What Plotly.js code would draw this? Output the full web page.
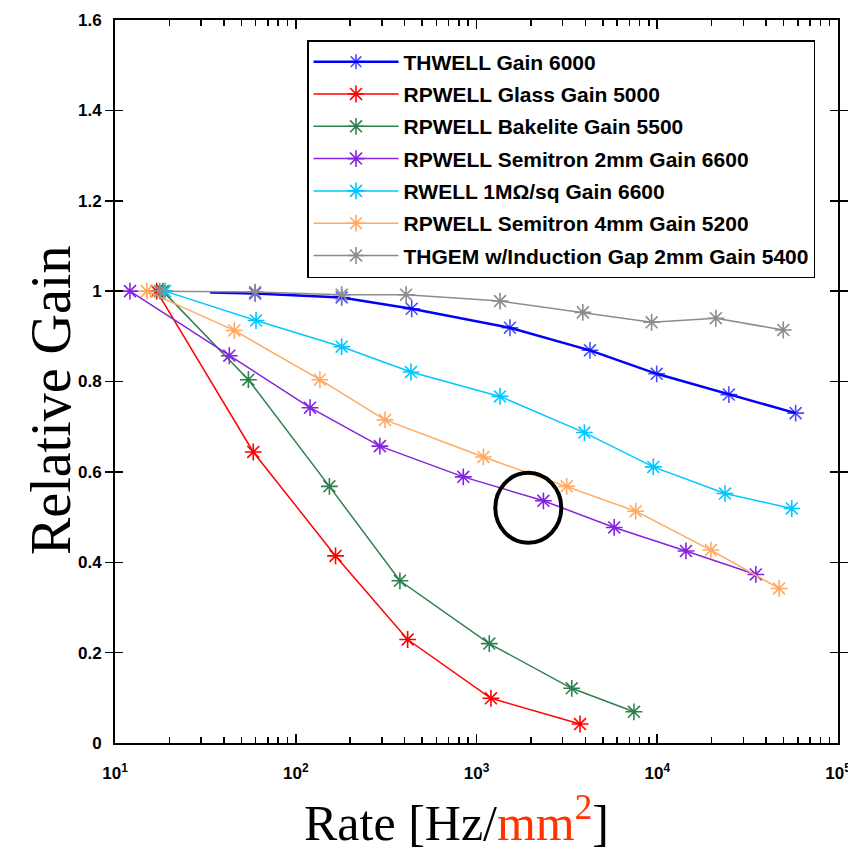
<!DOCTYPE html>
<html>
<head>
<meta charset="utf-8">
<script src="https://cdn.plot.ly/plotly-3.0.1.min.js"></script>
<style>html,body{margin:0;padding:0;background:#fff;}</style>
</head>
<body>
<div id="chart" style="width:848px;height:852px;"></div>
<script>
// ---- data ----
const seriesNames = [
  'THWELL Gain 6000',
  'RPWELL Glass Gain 5000',
  'RPWELL Bakelite Gain 5500',
  'RPWELL Semitron 2mm Gain 6600',
  'RWELL 1MΩ/sq Gain 6600',
  'RPWELL Semitron 4mm Gain 5200',
  'THGEM w/Induction Gap 2mm Gain 5400'
];
const thwellX   = [33.6, 59.6, 179.5, 438, 1531, 4245, 9930, 24900, 58300];
const thwellY   = [0.997, 0.995, 0.986, 0.961, 0.919, 0.869, 0.817, 0.771, 0.730];
const glassX    = [17.0, 58.2, 166, 416, 1202, 3740];
const glassY    = [1.0, 0.644, 0.414, 0.229, 0.099, 0.042];
const bakeliteX = [18.4, 54.7, 153.5, 377, 1177, 3365, 7430];
const bakeliteY = [1.0, 0.804, 0.568, 0.359, 0.220, 0.121, 0.069];
const semi2X    = [12.1, 42.9, 120, 292, 845, 2345, 5780, 14420, 35100];
const semi2Y    = [1.0, 0.857, 0.742, 0.657, 0.589, 0.536, 0.477, 0.425, 0.373];
const rwellX    = [18.9, 60.3, 179.5, 434, 1349, 3955, 9510, 23700, 55500];
const rwellY    = [1.0, 0.935, 0.877, 0.821, 0.767, 0.687, 0.611, 0.552, 0.519];
const semi4X    = [15.0, 45.7, 136, 312, 1092, 3154, 7600, 19800, 47200];
const semi4Y    = [1.0, 0.913, 0.804, 0.715, 0.633, 0.568, 0.513, 0.427, 0.342];
const thgemX    = [17.7, 59.6, 179.5, 408, 1350, 3875, 9310, 21100, 49800];
const thgemY    = [1.0, 0.998, 0.992, 0.992, 0.978, 0.953, 0.931, 0.940, 0.914];

const xTickVals = [10, 100, 1000, 10000, 100000];
const xTickText = ['10<sup>1</sup>', '10<sup>2</sup>', '10<sup>3</sup>', '10<sup>4</sup>', '10<sup>5</sup>'];
const xTitle = 'Rate [Hz/<span style="color:#ff3300">mm<sup>2</sup></span>]';
const yTitle = 'Relative Gain';

// ---- styling ----
const colors = ['#0000ff', '#ff0000', '#2e8050', '#8424e0', '#00c8ff', '#ffaa60', '#8c8c8c'];
const widths = [2.5, 1.5, 1.5, 1.5, 1.5, 1.5, 1.5];
const xs = [thwellX, glassX, bakeliteX, semi2X, rwellX, semi4X, thgemX];
const ys = [thwellY, glassY, bakeliteY, semi2Y, rwellY, semi4Y, thgemY];

const traces = xs.map((x, i) => ({
  type: 'scatter',
  mode: 'lines+markers',
  name: seriesNames[i],
  legendgroup: 'g' + i,
  x: x,
  y: ys[i],
  line: {color: colors[i], width: widths[i]},
  marker: {
    symbol: 'asterisk-open',
    size: (i === 0) ? x.map((v, k) => k === 0 ? 0 : 14) : 14,
    color: colors[i],
    line: {color: colors[i], width: 1.6}
  }
}));
// empty helper trace so the minor-tick overlay axis is drawn
traces.push({type: 'scatter', x: [], y: [], xaxis: 'x2', yaxis: 'y', showlegend: false, hoverinfo: 'skip'});

const minorVals = [];
xTickVals.slice(0, 4).forEach(d => { for (let k = 2; k <= 9; k++) minorVals.push(d * k); });

const tickFont = {family: 'Liberation Sans, Arial, sans-serif', size: 17, weight: 'bold', color: '#000'};
const serif = 'Liberation Serif, Times New Roman, serif';

const layout = {
  width: 848, height: 852,
  margin: {l: 115, r: 10, t: 20, b: 109},
  paper_bgcolor: '#fff', plot_bgcolor: '#fff',
  showlegend: true,
  xaxis: {
    type: 'log', range: [1, 5],
    tickmode: 'array', tickvals: xTickVals, ticktext: xTickText,
    ticks: 'inside', ticklen: 9, tickwidth: 1.8, tickcolor: '#000',
    showline: true, linecolor: '#000', linewidth: 2, mirror: 'allticks',
    showgrid: false, zeroline: false,
    tickfont: tickFont, ticklabelstandoff: 14, ticklabeloverflow: 'allow',
    title: {text: ''}
  },
  xaxis2: {
    type: 'log', range: [1, 5], overlaying: 'x', anchor: 'y', side: 'bottom',
    tickmode: 'array', tickvals: minorVals, showticklabels: false,
    ticks: 'inside', ticklen: 6, tickwidth: 1.5, tickcolor: '#000',
    showline: false, mirror: 'allticks', showgrid: false, zeroline: false
  },
  yaxis: {
    range: [0, 1.6], tick0: 0, dtick: 0.2,
    ticks: 'inside', ticklen: 8, tickwidth: 1.5, tickcolor: '#000',
    showline: true, linecolor: '#000', linewidth: 2, mirror: 'allticks',
    showgrid: false, zeroline: false,
    tickfont: tickFont, ticklabelstandoff: 8,
    title: {text: ''}
  },
  legend: {
    x: 0.2656, y: 0.9723, xanchor: 'left', yanchor: 'top',
    bgcolor: '#fff', bordercolor: '#000', borderwidth: 1.5,
    font: {family: 'Liberation Sans, Arial, sans-serif', size: 21, weight: 'bold', color: '#000'},
    traceorder: 'grouped', tracegroupgap: 2, itemwidth: 85
  },
  annotations: [
    {text: xTitle, xref: 'paper', yref: 'paper', x: 0.473, y: -0.106,
     xanchor: 'center', yanchor: 'middle', showarrow: false,
     font: {family: serif, size: 50, color: '#000'}},
    {text: yTitle, xref: 'paper', yref: 'paper', x: -0.0885, y: 0.473,
     xanchor: 'center', yanchor: 'middle', showarrow: false, textangle: -90,
     font: {family: serif, size: 56, color: '#000'}}
  ],
  shapes: [{
    type: 'circle', xref: 'paper', yref: 'paper',
    x0: 0.526, x1: 0.6173, y0: 0.2769, y1: 0.3737,
    line: {color: '#000', width: 4}
  }]
};

Plotly.newPlot('chart', traces, layout, {displayModeBar: false, staticPlot: true});
</script>
</body>
</html>
